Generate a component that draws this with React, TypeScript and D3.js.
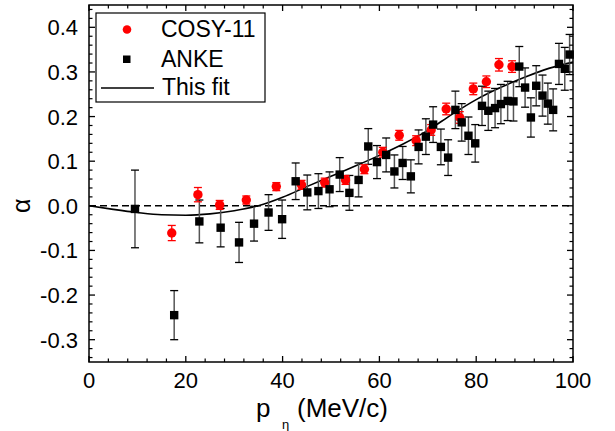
import React from "react";
import * as d3 from "d3";

const cosyP = [17.1, 22.5, 27.0, 32.5, 38.7, 43.9, 48.7, 53.0, 56.9, 60.7, 64.1, 67.6, 70.7, 73.8, 76.6, 79.4, 82.1, 84.7, 87.4];
const cosyA = [-0.061, 0.025, 0.002, 0.013, 0.043, 0.047, 0.052, 0.058, 0.082, 0.12, 0.158, 0.146, 0.17, 0.217, 0.198, 0.262, 0.278, 0.316, 0.312];
const cosyErr = [0.017, 0.016, 0.01, 0.009, 0.009, 0.01, 0.01, 0.01, 0.01, 0.011, 0.011, 0.011, 0.012, 0.013, 0.013, 0.013, 0.013, 0.014, 0.013];

const ankeP = [9.5, 17.6, 22.8, 27.2, 31.0, 34.1, 37.1, 39.9, 42.7, 45.1, 47.4, 49.7, 51.8, 53.8, 55.7, 57.7, 59.5, 61.4, 63.1, 64.8, 66.5, 68.1, 69.6, 71.1, 72.7, 74.2, 75.7, 77.0, 78.4, 79.8, 81.2, 82.5, 83.9, 85.1, 86.5, 87.7, 88.9, 90.1, 91.3, 92.4, 93.7, 94.8, 95.9, 97.1, 98.3, 99.3];
const ankeA = [-0.007, -0.245, -0.035, -0.049, -0.082, -0.04, -0.015, -0.03, 0.055, 0.03, 0.033, 0.037, 0.07, 0.029, 0.058, 0.133, 0.098, 0.114, 0.077, 0.096, 0.066, 0.132, 0.155, 0.182, 0.132, 0.108, 0.215, 0.187, 0.157, 0.14, 0.224, 0.213, 0.219, 0.228, 0.235, 0.234, 0.312, 0.265, 0.198, 0.269, 0.247, 0.229, 0.215, 0.318, 0.307, 0.339];
const ankeErr = [0.087, 0.055, 0.048, 0.043, 0.045, 0.039, 0.04, 0.043, 0.041, 0.039, 0.039, 0.039, 0.038, 0.039, 0.038, 0.04, 0.037, 0.038, 0.037, 0.037, 0.037, 0.038, 0.04, 0.04, 0.04, 0.04, 0.042, 0.042, 0.042, 0.042, 0.044, 0.044, 0.044, 0.044, 0.044, 0.044, 0.045, 0.044, 0.044, 0.045, 0.046, 0.046, 0.047, 0.046, 0.048, 0.045];

const fitP = [0, 5, 10, 15, 20, 25, 30, 35, 40, 45, 50, 55, 60, 65, 70, 75, 80, 85, 90, 95, 100];
const fitA = [0.0, -0.008, -0.015, -0.02, -0.021, -0.018, -0.011, 0.0, 0.019, 0.043, 0.066, 0.089, 0.113, 0.139, 0.169, 0.205, 0.238, 0.265, 0.288, 0.308, 0.322];

const xMajor = [0, 20, 40, 60, 80, 100];
const yMajor = [-0.3, -0.2, -0.1, 0.0, 0.1, 0.2, 0.3, 0.4];

const W = 615, H = 431;
const L = 89, R = 573, T = 5, B = 362;
const FONT = "'Liberation Sans', Arial, sans-serif";

export default function App() {
  const x = d3.scaleLinear().domain([0, 100]).range([L, R]);
  const y = d3.scaleLinear().domain([-0.35, 0.45]).range([B, T]);
  const xMinor = d3.range(0, 100.001, 4).filter((v) => !xMajor.includes(v));
  const yMinorAll = d3.range(-0.34, 0.4501, 0.02).map((v) => Math.round(v * 100) / 100);
  const yMinor = yMinorAll.filter((v) => !yMajor.some((m) => Math.abs(m - v) < 1e-6));
  const line = d3.line<number>().x((_, i) => x(fitP[i])).y((d) => y(d)).curve(d3.curveMonotoneX);
  const cap = 4;

  return (
    <div style={{ position: "fixed", left: 0, top: 0 }}>
      <svg width={W} height={H} style={{ display: "block", background: "#fff" }}>
        <line x1={L} x2={R} y1={y(0)} y2={y(0)} stroke="#000" strokeWidth={1.5} strokeDasharray="7,4" />
        <path d={line(fitA) || ""} fill="none" stroke="#000" strokeWidth={1.6} />
        {ankeP.map((p, i) => {
          const cx = x(p);
          const y1 = y(ankeA[i] + ankeErr[i]);
          const y2 = y(ankeA[i] - ankeErr[i]);
          return (
            <g key={"ae" + i}>
              <line x1={cx} x2={cx} y1={y1} y2={y2} stroke="#555" strokeWidth={1.5} />
              <line x1={cx - cap} x2={cx + cap} y1={y1} y2={y1} stroke="#000" strokeWidth={1.3} />
              <line x1={cx - cap} x2={cx + cap} y1={y2} y2={y2} stroke="#000" strokeWidth={1.3} />
            </g>
          );
        })}
        {cosyP.map((p, i) => {
          const cx = x(p);
          const y1 = y(cosyA[i] + cosyErr[i]);
          const y2 = y(cosyA[i] - cosyErr[i]);
          return (
            <g key={"ce" + i}>
              <line x1={cx} x2={cx} y1={y1} y2={y2} stroke="#f00" strokeWidth={1.3} />
              <line x1={cx - cap} x2={cx + cap} y1={y1} y2={y1} stroke="#f00" strokeWidth={1.3} />
              <line x1={cx - cap} x2={cx + cap} y1={y2} y2={y2} stroke="#f00" strokeWidth={1.3} />
            </g>
          );
        })}
        {cosyP.map((p, i) => (
          <circle key={"c" + i} cx={x(p)} cy={y(cosyA[i])} r={4.7} fill="#f00" />
        ))}
        {ankeP.map((p, i) => (
          <rect key={"a" + i} x={x(p) - 4.2} y={y(ankeA[i]) - 4.2} width={8.4} height={8.4} fill="#000" />
        ))}
        <rect x={L} y={T} width={R - L} height={B - T} fill="none" stroke="#000" strokeWidth={1.5} />
        {xMajor.map((v) => (
          <g key={"xM" + v}>
            <line x1={x(v)} x2={x(v)} y1={B} y2={B - 6} stroke="#000" strokeWidth={1.3} />
            <line x1={x(v)} x2={x(v)} y1={T} y2={T + 6} stroke="#000" strokeWidth={1.3} />
            <text x={x(v)} y={388} textAnchor="middle" fontFamily={FONT} fontSize={22}>{v}</text>
          </g>
        ))}
        {xMinor.map((v) => (
          <g key={"xm" + v}>
            <line x1={x(v)} x2={x(v)} y1={B} y2={B - 3.5} stroke="#000" strokeWidth={1.2} />
            <line x1={x(v)} x2={x(v)} y1={T} y2={T + 3.5} stroke="#000" strokeWidth={1.2} />
          </g>
        ))}
        {yMajor.map((v) => (
          <g key={"yM" + v}>
            <line x1={L} x2={L + 6} y1={y(v)} y2={y(v)} stroke="#000" strokeWidth={1.3} />
            <line x1={R} x2={R - 6} y1={y(v)} y2={y(v)} stroke="#000" strokeWidth={1.3} />
            <text x={78} y={y(v) + 8} textAnchor="end" fontFamily={FONT} fontSize={22}>{v.toFixed(1)}</text>
          </g>
        ))}
        {yMinor.map((v) => (
          <g key={"ym" + v}>
            <line x1={L} x2={L + 3.5} y1={y(v)} y2={y(v)} stroke="#000" strokeWidth={1.2} />
            <line x1={R} x2={R - 3.5} y1={y(v)} y2={y(v)} stroke="#000" strokeWidth={1.2} />
          </g>
        ))}
        <text x={256} y={417} fontFamily={FONT} fontSize={26}>p</text>
        <text x={282} y={429} fontFamily={FONT} fontSize={13}>η</text>
        <text x={297} y={417} fontFamily={FONT} fontSize={26}>(MeV/c)</text>
        <text transform={`translate(30,${y(0)}) rotate(-90)`} textAnchor="middle" fontFamily={FONT} fontSize={25}>α</text>
        <rect x={96} y={13} width={169} height={89} fill="#fff" stroke="#000" strokeWidth={1.2} />
        <circle cx={127} cy={29.5} r={4.3} fill="#f00" />
        <text x={161} y={37} fontFamily={FONT} fontSize={23}>COSY-11</text>
        <rect x={123} y={55.5} width={7.5} height={7.5} fill="#000" />
        <text x={161} y={67} fontFamily={FONT} fontSize={23}>ANKE</text>
        <line x1={101} x2={154} y1={88} y2={88} stroke="#000" strokeWidth={1.5} />
        <text x={162} y={95} fontFamily={FONT} fontSize={23}>This fit</text>
      </svg>
    </div>
  );
}
